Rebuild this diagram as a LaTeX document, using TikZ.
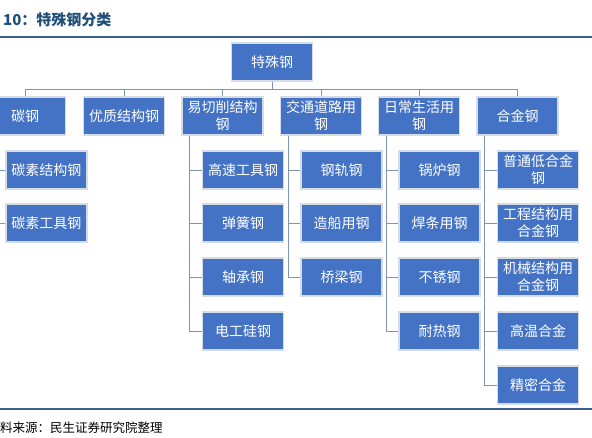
\documentclass[tikz,border=0pt]{standalone}
\usepackage{fontspec}
\setmainfont{Noto Sans CJK SC}
\definecolor{boxfill}{HTML}{4472C4}
\definecolor{boxline}{HTML}{D6DCE5}
\definecolor{connc}{HTML}{7F93B5}
\definecolor{titlec}{HTML}{1F4E79}
\definecolor{rulec}{HTML}{3B5E8F}
\tikzset{
  box/.style={draw=boxline, line width=1.2pt, fill=boxfill, text=white,
    minimum width=81pt, minimum height=38pt, inner sep=0pt, align=center,
    font=\fontsize{14}{17}\selectfont},
  conn/.style={draw=connc, line width=1pt},
  rulel/.style={draw=rulec, line width=1.5pt}
}
\begin{document}
\begin{tikzpicture}[x=1pt,y=-1pt]
\useasboundingbox (0,0) rectangle (592,437);
% title and rules
\node[anchor=west, text=titlec, font=\fontsize{15}{18}\selectfont\bfseries, inner sep=0pt] (title) at (3,20) {10：特殊钢分类};
\coordinate (rt1) at (0,37); \coordinate (rt2) at (592,37);
\draw[rulel] (rt1) -- (rt2);
\coordinate (rb1) at (0,409); \coordinate (rb2) at (592,409);
\draw[rulel] (rb1) -- (rb2);
\node[anchor=west, font=\fontsize{12.5}{15}\selectfont, inner sep=0pt] (src) at (0,428) {料来源：民生证券研究院整理};
% root
\node[box] (root) at (272,62) {特殊钢};
% level 1
\node[box] (c1) at (25,116) {碳钢};
\node[box] (c2) at (124,116) {优质结构钢};
\node[box] (c3) at (222.5,116) {易切削结构\\钢};
\node[box] (c4) at (321,116) {交通道路用\\钢};
\node[box] (c5) at (419,116) {日常生活用\\钢};
\node[box] (c6) at (517.5,116) {合金钢};
% level 2
\node[box] (k11) at (46.5,170) {碳素结构钢};
\node[box] (k12) at (46.5,223) {碳素工具钢};
\node[box] (k31) at (243,170) {高速工具钢};
\node[box] (k32) at (243,223) {弹簧钢};
\node[box] (k33) at (243,277) {轴承钢};
\node[box] (k34) at (243,331) {电工硅钢};
\node[box] (k41) at (341.5,170) {钢轨钢};
\node[box] (k42) at (341.5,223) {造船用钢};
\node[box] (k43) at (341.5,277) {桥梁钢};
\node[box] (k51) at (439.5,170) {锅炉钢};
\node[box] (k52) at (439.5,223) {焊条用钢};
\node[box] (k53) at (439.5,277) {不锈钢};
\node[box] (k54) at (439.5,331) {耐热钢};
\node[box] (k61) at (538,170) {普通低合金\\钢};
\node[box] (k62) at (538,223) {工程结构用\\合金钢};
\node[box] (k63) at (538,277) {机械结构用\\合金钢};
\node[box] (k64) at (538,331) {高温合金};
\node[box] (k65) at (538,385) {精密合金};
% connectors level 0-1
\coordinate (bus) at (0,89);
\draw[conn] (root.south) -- (root.south |- bus);
\draw[conn] (c1.north |- bus) -- (c6.north |- bus);
\foreach \c in {c1,c2,c3,c4,c5,c6} \draw[conn] (\c.north |- bus) -- (\c.north);
% connectors level 1-2
\coordinate (v1) at ([xshift=10pt]c1.south west);
\coordinate (v3) at ([xshift=8pt]c3.south west);
\coordinate (v4) at ([xshift=9pt]c4.south west);
\coordinate (v5) at ([xshift=9pt]c5.south west);
\coordinate (v6) at ([xshift=8pt]c6.south west);
\draw[conn] (v1) |- (k12.west);
\draw[conn] (v1 |- k11.west) -- (k11.west);
\draw[conn] (v3) |- (k34.west);
\foreach \k in {k31,k32,k33} \draw[conn] (v3 |- \k.west) -- (\k.west);
\draw[conn] (v4) |- (k43.west);
\foreach \k in {k41,k42} \draw[conn] (v4 |- \k.west) -- (\k.west);
\draw[conn] (v5) |- (k54.west);
\foreach \k in {k51,k52,k53} \draw[conn] (v5 |- \k.west) -- (\k.west);
\draw[conn] (v6) |- (k65.west);
\foreach \k in {k61,k62,k63,k64} \draw[conn] (v6 |- \k.west) -- (\k.west);
\end{tikzpicture}
\end{document}
